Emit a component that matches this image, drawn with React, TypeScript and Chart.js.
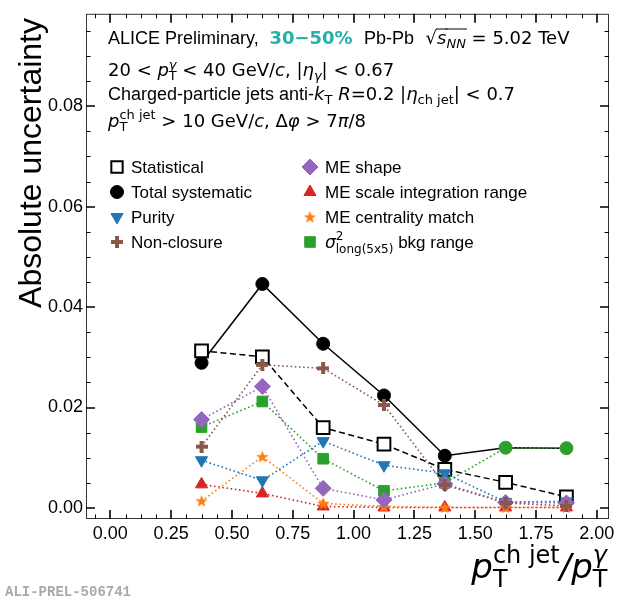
import { useEffect, useRef } from "react"
import { Chart, registerables } from "chart.js"
import { drawPoint } from "chart.js/helpers"

Chart.register(...registerables)

// bin centres of pT(ch jet)/pT(gamma)
const ptRatio = [0.375, 0.625, 0.875, 1.125, 1.375, 1.625, 1.875]

// absolute uncertainties
const statistical = [0.0313, 0.0301, 0.016, 0.0127, 0.0077, 0.0051, 0.0022]
const totalSyst = [0.0289, 0.0446, 0.0327, 0.0224, 0.0104, 0.012, 0.0119]
const purity = [0.0095, 0.0055, 0.0133, 0.0085, 0.0069, 0.0012, 0.0013]
const nonClosure = [0.0122, 0.0285, 0.0278, 0.0205, 0.0046, 0.001, 0.0004]
const meShape = [0.0176, 0.0242, 0.0039, 0.0016, 0.0048, 0.0011, 0.001]
const meScale = [0.0047, 0.0029, 0.0003, 0.0001, 0.0001, 0.0001, 0.0001]
const meCentrality = [0.0014, 0.0102, 0.0009, 0.0003, 0.0001, 0.0001, 0.0001]
const bkgRange = [0.0161, 0.0212, 0.0098, 0.0034, 0.005, 0.012, 0.0119]

const xTicks = [0, 0.25, 0.5, 0.75, 1, 1.25, 1.5, 1.75, 2]
const xTickLabels = ["0.00", "0.25", "0.50", "0.75", "1.00", "1.25", "1.50", "1.75", "2.00"]
const yTicks = [0, 0.02, 0.04, 0.06, 0.08]
const yTickLabels = ["0.00", "0.02", "0.04", "0.06", "0.08"]

const TF = '"Liberation Sans", Arial, sans-serif'
const MF = '"DejaVu Sans", sans-serif'
const f = (size: number, fam = TF, style = "") => `${style} ${size}px ${fam}`.trim()

const BLUE = "#1f77b4"
const BROWN = "#8c564b"
const PURPLE = "#9467bd"
const RED = "#d62728"
const ORANGE = "#ff7f0e"
const GREEN = "#2ca02c"
const TEAL = "#22b0a8"

type Run = { t: string; font: string; color?: string; dy?: number; keep?: boolean; over?: number }

function drawRuns(ctx: CanvasRenderingContext2D, x: number, y: number, runs: Run[], align = "left") {
  let total = 0
  for (const r of runs) {
    ctx.font = r.font
    if (!r.keep) total += ctx.measureText(r.t).width
  }
  let cx = align === "right" ? x - total : x
  ctx.textAlign = "left"
  ctx.textBaseline = "alphabetic"
  for (const r of runs) {
    ctx.font = r.font
    ctx.fillStyle = r.color || "#000"
    const w = ctx.measureText(r.t).width
    ctx.fillText(r.t, cx, y + (r.dy || 0))
    if (r.over !== undefined) {
      ctx.strokeStyle = "#000"
      ctx.lineWidth = 1
      ctx.setLineDash([])
      ctx.beginPath()
      ctx.moveTo(cx - 1, y - r.over)
      ctx.lineTo(cx + w + 1, y - r.over)
      ctx.stroke()
    }
    if (!r.keep) cx += w
  }
}

function plusImage(color: string, size: number) {
  const c = document.createElement("canvas")
  c.width = size
  c.height = size
  const g = c.getContext("2d")!
  const t = size / 3
  g.fillStyle = color
  g.fillRect((size - t) / 2, 0, t, size)
  g.fillRect(0, (size - t) / 2, size, t)
  return c
}

function starImage(color: string, size: number) {
  const c = document.createElement("canvas")
  c.width = size
  c.height = size
  const g = c.getContext("2d")!
  const R = size / 2
  const r = R * 0.42
  g.fillStyle = color
  g.beginPath()
  for (let i = 0; i < 10; i++) {
    const a = -Math.PI / 2 + (i * Math.PI) / 5
    const rr = i % 2 === 0 ? R : r
    const px = R + rr * Math.cos(a)
    const py = R + 0.5 + rr * Math.sin(a)
    if (i === 0) g.moveTo(px, py)
    else g.lineTo(px, py)
  }
  g.closePath()
  g.fill()
  return c
}

const text = (t: string, size = 18): Run => ({ t, font: f(size) })
const mr = (t: string, size = 18): Run => ({ t, font: f(size, MF) })
const mi = (t: string, size = 18): Run => ({ t, font: f(size, MF, "italic") })

const headerLines: Run[][] = [
  [
    text("ALICE Preliminary, "),
    mr(" "),
    { t: "30\u221250%", font: f(18, MF, "bold"), color: TEAL },
    mr("  "),
    text("Pb-Pb"),
    mr("  "),
    { t: "\u221a", font: f(18, MF) },
    { t: "s", font: f(18, MF, "italic"), over: 15 },
    { t: "NN", font: f(13, MF, "italic"), dy: 4, over: 15 },
    mr(" = 5.02 TeV"),
  ],
  [
    mr("20 < "),
    mi("p"),
    { t: "T", font: f(13, MF), dy: 4, keep: true },
    { t: "\u03b3", font: f(13, MF, "italic"), dy: -7 },
    mr(" < 40 GeV/"),
    mi("c"),
    mr(", |"),
    mi("\u03b7"),
    { t: "\u03b3", font: f(13, MF, "italic"), dy: 4 },
    mr("| < 0.67"),
  ],
  [
    text("Charged-particle jets anti-"),
    mi("k"),
    { t: "T", font: f(13, MF), dy: 4 },
    mr(" "),
    mi("R"),
    mr("=0.2 |"),
    mi("\u03b7"),
    { t: "ch jet", font: f(13, MF), dy: 4 },
    mr("| < 0.7"),
  ],
  [
    mi("p"),
    { t: "T", font: f(13, MF), dy: 4, keep: true },
    { t: "ch jet", font: f(13, MF), dy: -8 },
    mr(" > 10 GeV/"),
    mi("c"),
    mr(", \u0394"),
    mi("\u03c6"),
    mr(" > 7"),
    mi("\u03c0"),
    mr("/8"),
  ],
]
const headerBaselines = [44, 76, 100, 127]

const xTitle: Run[] = [
  mi("p", 34),
  { t: "T", font: f(24, MF), dy: 9, keep: true },
  { t: "ch jet", font: f(24, MF), dy: -15 },
  { t: "/", font: f(34, MF, "italic") },
  mi("p", 34),
  { t: "T", font: f(24, MF), dy: 9, keep: true },
  { t: "\u03b3", font: f(24, MF, "italic"), dy: -15 },
]

export default function App() {
  const canvasRef = useRef<HTMLCanvasElement>(null)

  useEffect(() => {
    document.body.style.margin = "0"
    const canvas = canvasRef.current
    if (!canvas) return
    const ctx = canvas.getContext("2d")
    if (!ctx) return

    const pts = (vals: number[]) => vals.map((y, i) => ({ x: ptRatio[i], y }))
    const dotted = (label: string, vals: number[], color: string, extra: object) => ({
      label,
      data: pts(vals),
      borderColor: color,
      backgroundColor: color,
      pointBackgroundColor: color,
      pointBorderColor: color,
      borderWidth: 1.6,
      borderDash: [1.6, 2.6],
      pointBorderWidth: 1,
      ...extra,
    })

    const datasets: any[] = [
      {
        label: "Statistical",
        data: pts(statistical),
        borderColor: "#000",
        borderWidth: 1.5,
        borderDash: [6, 3.5],
        pointStyle: "rect",
        pointRadius: 9,
        pointBackgroundColor: "#fff",
        pointBorderColor: "#000",
        pointBorderWidth: 2,
        order: 8,
      },
      {
        label: "Total systematic",
        data: pts(totalSyst),
        borderColor: "#000",
        borderWidth: 1.5,
        pointStyle: "circle",
        pointRadius: 6.5,
        pointBackgroundColor: totalSyst.map((_, i) => (i >= 5 ? GREEN : "#000")),
        pointBorderColor: totalSyst.map((_, i) => (i >= 5 ? GREEN : "#000")),
        pointBorderWidth: 1,
        order: 9,
      },
      dotted("Purity", purity, BLUE, { pointStyle: "triangle", pointRotation: 180, pointRadius: 7, order: 3 }),
      dotted("Non-closure", nonClosure, BROWN, { pointStyle: plusImage(BROWN, 12), pointRadius: 6, order: 1 }),
      dotted("ME shape", meShape, PURPLE, { pointStyle: "rectRot", pointRadius: 8, order: 2 }),
      dotted("ME scale integration range", meScale, RED, { pointStyle: "triangle", pointRadius: 7, order: 5 }),
      dotted("ME centrality match", meCentrality, ORANGE, { pointStyle: starImage(ORANGE, 13), pointRadius: 6, order: 4 }),
      dotted("bkg range", bkgRange, GREEN, {
        pointStyle: "rect",
        pointRadius: bkgRange.map((_, i) => (i >= 5 ? 0 : 7.5)),
        order: 6,
      }),
    ]

    const legendCols = [
      { mx: 117, tx: 131, items: [0, 1, 2, 3] },
      { mx: 310, tx: 325, items: [4, 5, 6, 7] },
    ]
    const legendRows = [167, 192, 217, 242]

    const framePlugin = {
      id: "frame",
      afterDraw(chart: any) {
        const g: CanvasRenderingContext2D = chart.ctx
        const { left, right, top, bottom } = chart.chartArea
        const xs = chart.scales.x
        const ys = chart.scales.y
        g.save()
        g.setLineDash([])
        g.strokeStyle = "#333"
        g.lineWidth = 1
        g.strokeRect(left + 0.5, top + 0.5, right - left - 1, bottom - top - 1)

        const tick = (px: number, len: number, horiz: boolean) => {
          g.beginPath()
          if (horiz) {
            g.moveTo(px, bottom)
            g.lineTo(px, bottom - len)
            g.moveTo(px, top)
            g.lineTo(px, top + len)
          } else {
            g.moveTo(left, px)
            g.lineTo(left + len, px)
            g.moveTo(right, px)
            g.lineTo(right - len, px)
          }
          g.stroke()
        }
        g.strokeStyle = "#000"
        g.lineWidth = 1.6
        xTicks.forEach((v) => tick(Math.round(xs.getPixelForValue(v)), 9, true))
        yTicks.forEach((v) => tick(Math.round(ys.getPixelForValue(v)), 9, false))
        g.lineWidth = 1
        for (let k = Math.ceil(xs.min / 0.0625); k * 0.0625 <= xs.max; k++) {
          if (k % 4 !== 0) tick(Math.round(xs.getPixelForValue(k * 0.0625)) + 0.5, 4.5, true)
        }
        for (let k = Math.ceil(ys.min / 0.005); k * 0.005 <= ys.max; k++) {
          if (k % 4 !== 0) tick(Math.round(ys.getPixelForValue(k * 0.005)) + 0.5, 4.5, false)
        }

        // header text
        headerLines.forEach((line, i) => drawRuns(g, 108, headerBaselines[i], line))

        // legend
        legendCols.forEach((col) => {
          col.items.forEach((di, row) => {
            const ds = chart.data.datasets[di]
            const y = legendRows[row]
            const fill = di === 0 ? "#fff" : di === 1 ? "#000" : ds.backgroundColor
            g.fillStyle = fill
            g.strokeStyle = ds.pointBorderColor instanceof Array ? "#000" : ds.pointBorderColor
            g.lineWidth = di === 0 ? 2 : 1
            g.setLineDash([])
            const r = Array.isArray(ds.pointRadius) ? 7.5 : ds.pointRadius
            drawPoint(g, { pointStyle: ds.pointStyle, rotation: ds.pointRotation || 0, radius: di === 0 ? 8 : r, borderWidth: g.lineWidth }, col.mx, y)
            let runs: Run[]
            if (di === 7) {
              runs = [
                mi("\u03c3", 17),
                { t: "2", font: f(12, MF), dy: -8, keep: true },
                { t: "long(5x5)", font: f(12, MF), dy: 5 },
                text(" bkg range", 17),
              ]
            } else {
              runs = [text(ds.label, 17)]
            }
            drawRuns(g, col.tx, y + 6, runs)
          })
        })

        // axis titles
        drawRuns(g, 607, 578, xTitle, "right")
        g.save()
        g.translate(41, 18)
        g.rotate(-Math.PI / 2)
        g.font = f(32)
        g.fillStyle = "#000"
        g.textAlign = "right"
        g.textBaseline = "alphabetic"
        g.fillText("Absolute uncertainty", 0, 0)
        g.restore()

        g.font = f(14, '"Liberation Mono", monospace', "bold")
        g.fillStyle = "#aaa"
        g.textAlign = "left"
        g.textBaseline = "middle"
        g.fillText("ALI-PREL-506741", 5, 592)
        g.restore()
      },
    }

    const chart = new Chart(ctx, {
      type: "line",
      data: { datasets },
      options: {
        animation: false,
        responsive: false,
        layout: { padding: { top: 11, right: 11, left: 0, bottom: 0 } },
        plugins: { legend: { display: false }, tooltip: { enabled: false } },
        elements: { line: { tension: 0 } },
        datasets: { line: { clip: false } as any },
        scales: {
          x: {
            type: "linear",
            min: -0.1,
            max: 2.05,
            bounds: "data",
            afterBuildTicks: (s: any) => {
              s.ticks = xTicks.map((value) => ({ value }))
            },
            afterFit: (s: any) => {
              s.height = 82
            },
            grid: { display: false, drawTicks: false },
            border: { display: false },
            ticks: {
              autoSkip: false,
              maxRotation: 0,
              padding: 4,
              color: "#000",
              font: { family: TF, size: 18 },
              callback: (v: any) => xTickLabels[xTicks.indexOf(Number(v))],
            },
          },
          y: {
            type: "linear",
            min: -0.0022,
            max: 0.0984,
            bounds: "data",
            afterBuildTicks: (s: any) => {
              s.ticks = yTicks.map((value) => ({ value }))
            },
            afterFit: (s: any) => {
              s.width = 86
            },
            grid: { display: false, drawTicks: false },
            border: { display: false },
            ticks: {
              padding: 3,
              color: "#000",
              font: { family: TF, size: 18 },
              callback: (v: any) => yTickLabels[yTicks.indexOf(Number(v))],
            },
          },
        },
      },
      plugins: [framePlugin],
    })

    return () => chart.destroy()
  }, [])

  return (
    <div style={{ width: 620, height: 601 }}>
      <canvas ref={canvasRef} width={620} height={601} style={{ display: "block" }} />
    </div>
  )
}
